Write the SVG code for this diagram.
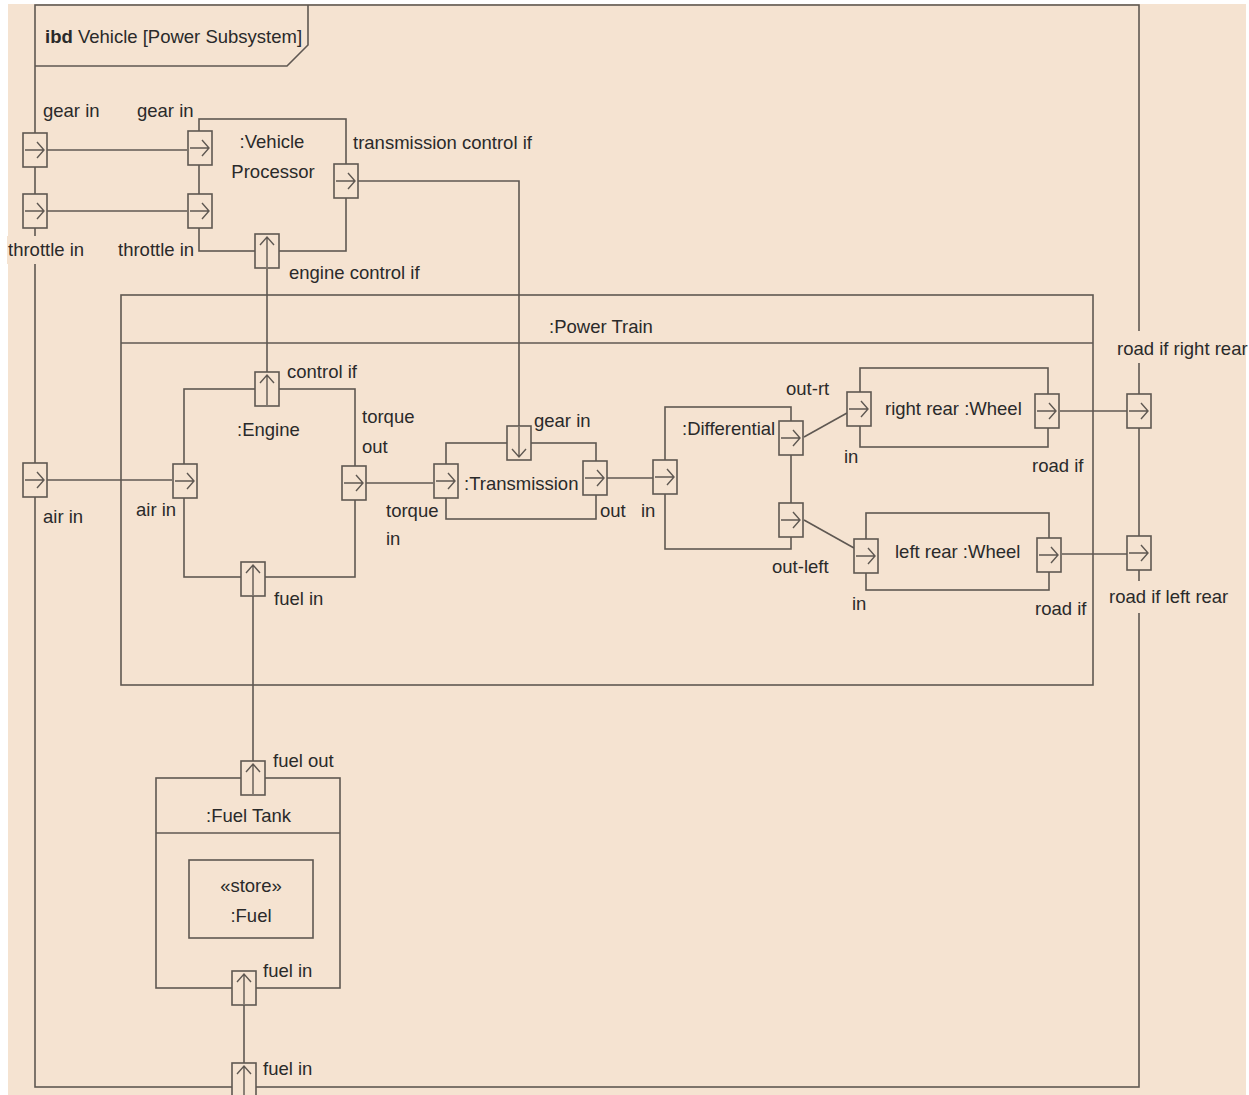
<svg xmlns="http://www.w3.org/2000/svg" xmlns:xlink="http://www.w3.org/1999/xlink" width="1249" height="1095" viewBox="0 0 1249 1095">
<style>
.ln{fill:none;stroke:#5f5852;stroke-width:1.6}
.bx{fill:none;stroke:#5f5852;stroke-width:1.6}
.pt{fill:#f5e3d1;stroke:#5f5852;stroke-width:1.6}
.ar{fill:none;stroke:#5f5852;stroke-width:1.4}
.t{font-family:"Liberation Sans",Arial,sans-serif;font-size:18.5px;fill:#2a2a2a}
.m{text-anchor:middle}
.bg{fill:#f5e3d1}
</style>
<defs>
<g id="pr"><rect class="pt" x="0" y="0" width="24" height="34"/><path class="ar" d="M2,17H21M14,9L21,17L14,25"/></g>
<g id="pu"><rect class="pt" x="0" y="0" width="24" height="34"/><path class="ar" d="M12,33V3M5,11L12,3L19,11"/></g>
<g id="pd"><rect class="pt" x="0" y="0" width="24" height="34"/><path class="ar" d="M12,1V31M5,23L12,31L19,23"/></g>
</defs>
<rect x="0" y="0" width="1249" height="1095" fill="#ffffff"/>
<rect x="8" y="4" width="1238" height="1091" fill="#f5e3d1"/>

<g id="frame">
<rect class="bx" x="35" y="5" width="1104" height="1082"/>
<path class="bx" d="M35,66H287L308,45V5"/>
<text class="t" x="45" y="43"><tspan font-weight="bold">ibd</tspan> Vehicle [Power Subsystem]</text>
</g>

<g id="connectors">
<path class="ln" d="M47,150H187"/>
<path class="ln" d="M47,211H187"/>
<path class="ln" d="M358,181H519V426"/>
<path class="ln" d="M267,372V269"/>
<path class="ln" d="M47,480H172"/>
<path class="ln" d="M366,483H433"/>
<path class="ln" d="M607,478H653"/>
<path class="ln" d="M804,437L847,413"/>
<path class="ln" d="M804,520L854,548"/>
<path class="ln" d="M1060,411H1127"/>
<path class="ln" d="M1062,554H1127"/>
<path class="ln" d="M253,596V761"/>
<path class="ln" d="M244,1005V1063"/>
</g>

<g id="frame-ports">
<use href="#pr" x="23" y="133"/>
<use href="#pr" x="23" y="194"/>
<use href="#pr" x="23" y="463"/>
<use href="#pr" x="1127" y="394"/>
<use href="#pr" x="1127" y="536"/>
<use href="#pu" x="232" y="1063"/>
<rect class="bg" x="7" y="236" width="78" height="28"/>
<text class="t" x="43" y="117">gear in</text>
<text class="t" x="8" y="256">throttle in</text>
<text class="t" x="43" y="523">air in</text>
<rect class="bg" x="1116" y="331" width="130" height="32"/>
<text class="t" x="1117" y="355">road if right rear</text>
<rect class="bg" x="1107" y="581" width="124" height="32"/>
<text class="t" x="1109" y="603">road if left rear</text>
<text class="t" x="263" y="1075">fuel in</text>
</g>

<g id="vehicle-processor">
<rect class="bx" x="199" y="119" width="147" height="132"/>
<use href="#pr" x="188" y="131"/>
<use href="#pr" x="188" y="194"/>
<use href="#pr" x="334" y="164"/>
<use href="#pu" x="255" y="234"/>
<text class="t m" x="272" y="148">:Vehicle</text>
<text class="t m" x="273" y="178">Processor</text>
<text class="t" x="137" y="117">gear in</text>
<text class="t" x="118" y="256">throttle in</text>
<text class="t" x="353" y="149">transmission control if</text>
<text class="t" x="289" y="279">engine control if</text>
</g>

<g id="power-train">
<rect class="bx" x="121" y="295" width="972" height="390"/>
<path class="bx" d="M121,343H1093"/>
<text class="t" x="549" y="333">:Power Train</text>
</g>

<g id="engine">
<rect class="bx" x="184" y="389" width="171" height="188"/>
<use href="#pu" x="255" y="372"/>
<use href="#pr" x="173" y="464"/>
<use href="#pr" x="342" y="466"/>
<use href="#pu" x="241" y="562"/>
<text class="t" x="237" y="436">:Engine</text>
<text class="t" x="287" y="378">control if</text>
<text class="t" x="136" y="516">air in</text>
<text class="t" x="362" y="423">torque</text>
<text class="t" x="362" y="453">out</text>
<text class="t" x="274" y="605">fuel in</text>
</g>

<g id="transmission">
<rect class="bx" x="446" y="443" width="150" height="76"/>
<use href="#pr" x="434" y="464"/>
<use href="#pd" x="507" y="426"/>
<use href="#pr" x="583" y="461"/>
<text class="t" x="464" y="490">:Transmission</text>
<text class="t" x="534" y="427">gear in</text>
<text class="t" x="386" y="517">torque</text>
<text class="t" x="386" y="545">in</text>
<text class="t" x="600" y="517">out</text>
</g>

<g id="differential">
<rect class="bx" x="665" y="407" width="126" height="142"/>
<use href="#pr" x="653" y="460"/>
<use href="#pr" x="779" y="421"/>
<use href="#pr" x="779" y="503"/>
<text class="t" x="682" y="435">:Differential</text>
<text class="t" x="641" y="517">in</text>
<text class="t" x="786" y="395">out-rt</text>
<text class="t" x="772" y="573">out-left</text>
</g>

<g id="right-rear-wheel">
<rect class="bx" x="860" y="368" width="188" height="79"/>
<use href="#pr" x="847" y="392"/>
<use href="#pr" x="1035" y="394"/>
<text class="t" x="885" y="415">right rear :Wheel</text>
<text class="t" x="844" y="463">in</text>
<text class="t" x="1032" y="472">road if</text>
</g>

<g id="left-rear-wheel">
<rect class="bx" x="866" y="513" width="183" height="77"/>
<use href="#pr" x="854" y="539"/>
<use href="#pr" x="1037" y="538"/>
<text class="t" x="895" y="558">left rear :Wheel</text>
<text class="t" x="852" y="610">in</text>
<text class="t" x="1035" y="615">road if</text>
</g>

<g id="fuel-tank">
<rect class="bx" x="156" y="778" width="184" height="210"/>
<path class="bx" d="M156,833H340"/>
<use href="#pu" x="241" y="761"/>
<use href="#pu" x="232" y="971"/>
<text class="t" x="206" y="822">:Fuel Tank</text>
<text class="t" x="273" y="767">fuel out</text>
<text class="t" x="263" y="977">fuel in</text>
</g>

<g id="fuel">
<rect class="bx" x="189" y="860" width="124" height="78"/>
<text class="t m" x="251" y="892">«store»</text>
<text class="t m" x="251" y="922">:Fuel</text>
</g>
</svg>
